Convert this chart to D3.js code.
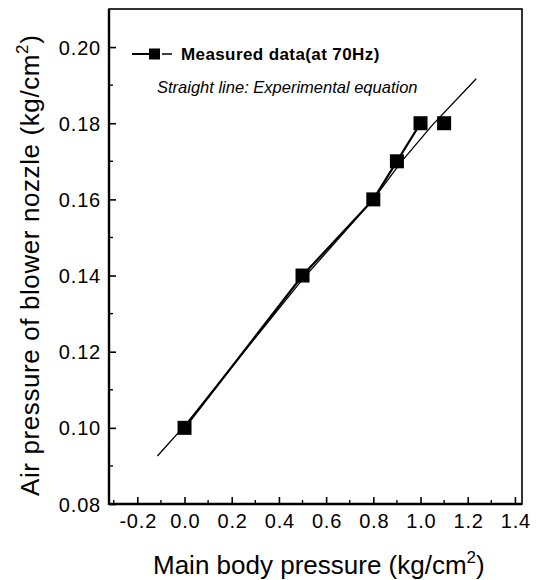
<!DOCTYPE html>
<html>
<head>
<meta charset="utf-8">
<script src="https://cdn.jsdelivr.net/npm/d3@7"></script>
<style>
    body { margin: 0; background: #ffffff; }
    text { font-family: "Liberation Sans", Arial, sans-serif; fill: #000000; }
</style>
</head>
<body>
<div id="chart"></div>
<script>
// measured data (at 70Hz)
var meas_x = [0.0, 0.5, 0.8, 0.9, 1.0, 1.1];
var meas_y = [0.10, 0.14, 0.16, 0.17, 0.18, 0.18];
// number of measured points joined by the thick line
var meas_joined = 5;

// experimental equation curve
var eq_x = [-0.115, 0.0, 0.2, 0.5, 0.8, 0.92, 1.05, 1.236];
var eq_y = [0.0926, 0.1005, 0.1160, 0.1390, 0.1600, 0.1700, 0.1795, 0.1917];

// ticks
var x_ticks = [-0.2, 0.0, 0.2, 0.4, 0.6, 0.8, 1.0, 1.2, 1.4];
var x_minor = [-0.3, -0.1, 0.1, 0.3, 0.5, 0.7, 0.9, 1.1, 1.3];
var y_ticks = [0.08, 0.10, 0.12, 0.14, 0.16, 0.18, 0.20];
var y_minor = [0.09, 0.11, 0.13, 0.15, 0.17, 0.19];

// drawing params
const width = 549,
    height = 580,
    m_left = 109,
    m_right = 522,
    m_top = 9,
    m_bottom = 504,
    msize = 14; // marker size

var svg = d3.select("#chart").append("svg")
    .attr("width", width)
    .attr("height", height);

var x = d3.scaleLinear().domain([-0.32, 1.43]).range([m_left, m_right]);
var y = d3.scaleLinear().domain([0.08, 0.21]).range([m_bottom, m_top]);

// bottom axis, ticks pointing inside
var xAxis = svg.append("g")
    .attr("transform", "translate(0," + m_bottom + ")")
    .call(d3.axisBottom(x).tickValues(x_ticks).tickSizeInner(-7).tickSizeOuter(0));
xAxis.select(".domain").remove();
xAxis.selectAll(".tick line").attr("stroke", "#000").attr("stroke-width", 1.6);
xAxis.selectAll(".tick text")
    .attr("y", 24)
    .attr("dy", 0)
    .attr("dx", 0.4)
    .style("font-size", "20px")
    .style("letter-spacing", "0.8px")
    .text(function(d) { return d.toFixed(1); });

svg.append("g")
    .selectAll("line")
    .data(x_minor)
    .enter().append("line")
    .attr("x1", function(d) { return x(d); })
    .attr("x2", function(d) { return x(d); })
    .attr("y1", m_bottom)
    .attr("y2", m_bottom - 4)
    .attr("stroke", "#000")
    .attr("stroke-width", 1.4);

// left axis
var yAxis = svg.append("g")
    .attr("transform", "translate(" + m_left + ",0)")
    .call(d3.axisLeft(y).tickValues(y_ticks).tickSizeInner(-7).tickSizeOuter(0)
        .tickFormat(d3.format(".2f")));
yAxis.select(".domain").remove();
yAxis.selectAll(".tick line").attr("stroke", "#000").attr("stroke-width", 1.6);
yAxis.selectAll(".tick text")
    .attr("x", -8)
    .attr("dy", "0.35em")
    .style("font-size", "20px")
    .style("letter-spacing", "0.8px");

svg.append("g")
    .selectAll("line")
    .data(y_minor)
    .enter().append("line")
    .attr("x1", m_left)
    .attr("x2", m_left + 4)
    .attr("y1", function(d) { return y(d); })
    .attr("y2", function(d) { return y(d); })
    .attr("stroke", "#000")
    .attr("stroke-width", 1.4);

// frame
svg.append("rect")
    .attr("x", m_left)
    .attr("y", m_top)
    .attr("width", m_right - m_left)
    .attr("height", m_bottom - m_top)
    .attr("fill", "none")
    .attr("stroke", "#000")
    .attr("stroke-width", 1.6);
svg.append("line")
    .attr("x1", m_left).attr("x2", m_left)
    .attr("y1", m_top).attr("y2", m_bottom + 1)
    .attr("stroke", "#000").attr("stroke-width", 2.4);
svg.append("line")
    .attr("x1", m_left).attr("x2", m_right)
    .attr("y1", m_bottom).attr("y2", m_bottom)
    .attr("stroke", "#000").attr("stroke-width", 2.4);

// experimental equation (thin line)
var eq_pts = eq_x.map(function(d, i) { return [d, eq_y[i]]; });
svg.append("path")
    .datum(eq_pts)
    .attr("fill", "none")
    .attr("stroke", "#000")
    .attr("stroke-width", 1.3)
    .attr("d", d3.line()
        .x(function(d) { return x(d[0]); })
        .y(function(d) { return y(d[1]); }));

// measured data line + squares
var meas_pts = meas_x.map(function(d, i) { return [d, meas_y[i]]; });
svg.append("path")
    .datum(meas_pts.slice(0, meas_joined))
    .attr("fill", "none")
    .attr("stroke", "#000")
    .attr("stroke-width", 2.2)
    .attr("d", d3.line()
        .x(function(d) { return x(d[0]); })
        .y(function(d) { return y(d[1]); }));

svg.append("g")
    .selectAll("rect")
    .data(meas_pts)
    .enter().append("rect")
    .attr("x", function(d) { return x(d[0]) - msize / 2; })
    .attr("y", function(d) { return y(d[1]) - msize / 2; })
    .attr("width", msize)
    .attr("height", msize)
    .attr("fill", "#000");

// legend
var leg = svg.append("g");
leg.append("line")
    .attr("x1", 132).attr("x2", 150)
    .attr("y1", 54).attr("y2", 54)
    .attr("stroke", "#000").attr("stroke-width", 2);
leg.append("line")
    .attr("x1", 162).attr("x2", 172)
    .attr("y1", 54).attr("y2", 54)
    .attr("stroke", "#000").attr("stroke-width", 1.5);
leg.append("rect")
    .attr("x", 149).attr("y", 48.5)
    .attr("width", 11).attr("height", 11)
    .attr("fill", "#000");
leg.append("text")
    .attr("x", 181).attr("y", 60)
    .style("font-size", "17px")
    .style("font-weight", "bold")
    .style("letter-spacing", "0.4px")
    .text("Measured data(at 70Hz)");
leg.append("text")
    .attr("x", 157).attr("y", 93)
    .style("font-size", "16.5px")
    .style("font-style", "italic")
    .text("Straight line: Experimental equation");

// axis titles
var xt = svg.append("text")
    .attr("x", 153).attr("y", 574)
    .style("font-size", "26px");
xt.append("tspan").text("Main body pressure (kg/cm");
xt.append("tspan").attr("dy", -11).style("font-size", "17px").text("2");
xt.append("tspan").attr("dy", 11).text(")");

var yt = svg.append("text")
    .attr("transform", "translate(39,496) rotate(-90)")
    .attr("x", 0).attr("y", 0)
    .style("font-size", "26px")
    .style("letter-spacing", "0.6px");
yt.append("tspan").text("Air pressure of blower nozzle (kg/cm");
yt.append("tspan").attr("dy", -11).style("font-size", "17px").text("2");
yt.append("tspan").attr("dy", 11).text(")");
</script>
</body>
</html>
